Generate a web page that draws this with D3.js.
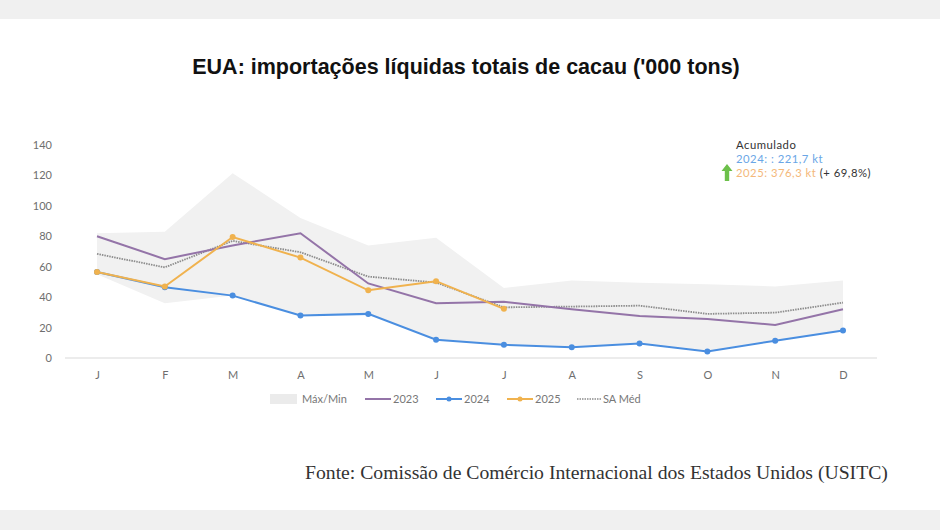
<!DOCTYPE html>
<html><head><meta charset="utf-8">
<script src="https://cdn.jsdelivr.net/npm/d3@7"></script>
<style>body{margin:0;background:#fff;}svg{display:block;}</style>
</head><body>
<svg id="c" width="940" height="530"></svg>
<script>
const months = ["J","F","M","A","M","J","J","A","S","O","N","D"];
const yTicks = [0,20,40,60,80,100,120,140];
const bandMax = [82,83,121.5,92,74,79,46,51,49.5,48.5,47,51];
const bandMin = [55,36,41,27.6,29,12,8.7,7,9.6,4.2,11.4,18];
const s2023 = [80,65,74,82,49,36,37,32,27.6,25.6,21.7,32];
const s2024 = [56.5,46.5,41,28,29,12,8.7,7,9.6,4.2,11.4,18];
const s2025 = [56.5,47,79.5,66,44.5,50.5,32.3];
const saMed = [68.4,59.6,77,69.5,53.5,49.6,33.3,33.8,34.4,29,29.8,36.4];
const legendLabels = ["Máx/Min","2023","2024","2025","SA Méd"];

const svg = d3.select("#c");
const W=940,H=530;
svg.append("rect").attr("width",W).attr("height",19).attr("fill","#f0f0f0");
svg.append("rect").attr("y",510).attr("width",W).attr("height",20).attr("fill","#f0f0f0");

const idx = months.map((d,i)=>i);
const x = d3.scalePoint().domain(idx).range([97,843]);
const y = d3.scaleLinear().domain([0,140]).range([358,145]);

const font = "Lato, 'Open Sans', sans-serif";
const c2023="#9474a8", c2024="#4a8ee0", c2025="#f0b24e", cSA="#8c8c8c", cBand="#f1f1f1";

svg.append("text").attr("x",466).attr("y",74).attr("text-anchor","middle")
  .attr("font-family","'Liberation Sans', Arial, sans-serif").attr("font-weight","bold")
  .attr("font-size",21.5).attr("fill","#111").text("EUA: importações líquidas totais de cacau ('000 tons)");

// band
const area = d3.area().x((d,i)=>x(i)).y0((d,i)=>y(bandMin[i])).y1(d=>y(d));
svg.append("path").datum(bandMax).attr("d",area).attr("fill",cBand);

// baseline
svg.append("line").attr("x1",65).attr("x2",877).attr("y1",y(0)).attr("y2",y(0)).attr("stroke","#d9d9d9").attr("stroke-width",1);

// y axis
const yAxis = d3.axisLeft(y).tickValues(yTicks).tickSize(0).tickPadding(0);
const ga = svg.append("g").attr("transform","translate(52,0)").call(yAxis);
ga.select(".domain").remove();
ga.selectAll("text").attr("font-family",font).attr("font-size",11).attr("fill","#6e6e6e");

// x axis
const xAxis = d3.axisBottom(x).tickFormat(i=>months[i]).tickSize(0).tickPadding(0);
const gx = svg.append("g").attr("transform","translate(0,371)").call(xAxis);
gx.select(".domain").remove();
gx.selectAll("text").attr("font-family",font).attr("font-size",11).attr("fill","#6e6e6e");

const line = d3.line().x((d,i)=>x(i)).y(d=>y(d));
svg.append("path").datum(saMed).attr("d",line).attr("fill","none").attr("stroke",cSA).attr("stroke-width",1.8).attr("stroke-dasharray","1.5,1");
svg.append("path").datum(s2023).attr("d",line).attr("fill","none").attr("stroke",c2023).attr("stroke-width",2);
svg.append("path").datum(s2024).attr("d",line).attr("fill","none").attr("stroke",c2024).attr("stroke-width",2);
svg.selectAll(".d24").data(s2024).enter().append("circle").attr("cx",(d,i)=>x(i)).attr("cy",d=>y(d)).attr("r",3).attr("fill",c2024);
svg.append("path").datum(s2025).attr("d",line).attr("fill","none").attr("stroke",c2025).attr("stroke-width",2);
svg.selectAll(".d25").data(s2025).enter().append("circle").attr("cx",(d,i)=>x(i)).attr("cy",d=>y(d)).attr("r",3).attr("fill",c2025);

// legend
const lg = svg.append("g").attr("font-family",font).attr("font-size",11).attr("fill","#777");
const ly=399;
lg.append("rect").attr("x",270).attr("y",ly-5).attr("width",27).attr("height",10).attr("fill","#ebebeb");
lg.append("text").attr("x",302).attr("y",ly+4).text(legendLabels[0]);
lg.append("line").attr("x1",365).attr("x2",391).attr("y1",ly).attr("y2",ly).attr("stroke",c2023).attr("stroke-width",2);
lg.append("text").attr("x",393).attr("y",ly+4).text(legendLabels[1]);
lg.append("line").attr("x1",436).attr("x2",462).attr("y1",ly).attr("y2",ly).attr("stroke",c2024).attr("stroke-width",2);
lg.append("circle").attr("cx",449).attr("cy",ly).attr("r",2.5).attr("fill",c2024);
lg.append("text").attr("x",464).attr("y",ly+4).text(legendLabels[2]);
lg.append("line").attr("x1",507).attr("x2",533).attr("y1",ly).attr("y2",ly).attr("stroke",c2025).attr("stroke-width",2);
lg.append("circle").attr("cx",520).attr("cy",ly).attr("r",2.5).attr("fill",c2025);
lg.append("text").attr("x",535).attr("y",ly+4).text(legendLabels[3]);
lg.append("line").attr("x1",577).attr("x2",601).attr("y1",ly).attr("y2",ly).attr("stroke",cSA).attr("stroke-width",1.5).attr("stroke-dasharray","1.5,1");
lg.append("text").attr("x",603).attr("y",ly+4).text(legendLabels[4]);

// annotation
const an = svg.append("g").attr("font-family","Lato, sans-serif").attr("font-size",11.3).attr("letter-spacing",0.5);
an.append("text").attr("x",736).attr("y",149).attr("fill","#333").text("Acumulado");
an.append("text").attr("x",736).attr("y",163).attr("fill","#6aa6e6").text("2024: : 221,7 kt");
const t3 = an.append("text").attr("x",736).attr("y",177);
t3.append("tspan").attr("fill","#f4b87a").text("2025: 376,3 kt ");
t3.append("tspan").attr("fill","#333").text("(+ 69,8%)");
// green arrow
an.append("path").attr("d","M727,164 L732.5,171 L729.2,171 L729.2,181 L724.8,181 L724.8,171 L721.5,171 Z").attr("fill","#6cc04a");

svg.append("text").attr("x",305).attr("y",479).attr("font-family","'Liberation Serif', 'Times New Roman', serif")
  .attr("font-size",19.7).attr("fill","#333").text("Fonte: Comissão de Comércio Internacional dos Estados Unidos (USITC)");
</script>
</body></html>
